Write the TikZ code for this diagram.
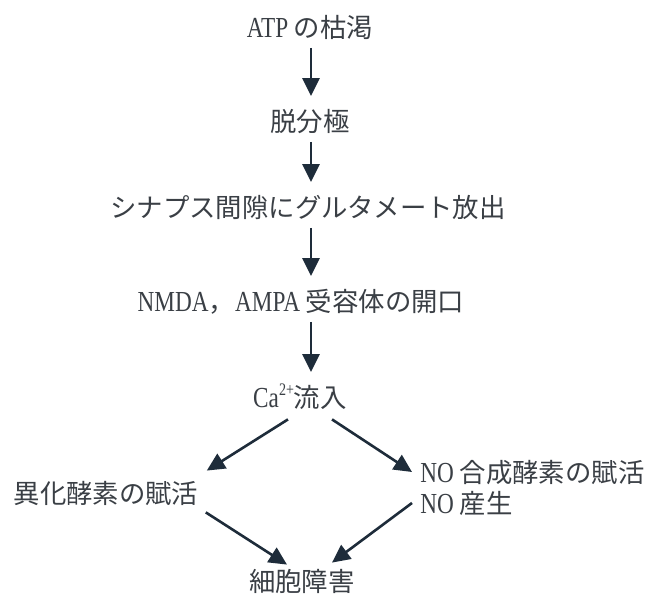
\documentclass[tikz,border=0pt]{standalone}
\usepackage{fontspec}
\setmainfont[FakeStretch=0.8,Scale=1.1]{Liberation Serif}
\newfontfamily\jp{Noto Sans CJK JP}
\usetikzlibrary{arrows.meta,calc}
\definecolor{txt}{HTML}{3A3F45}
\definecolor{arrc}{HTML}{1E2C3A}
\begin{document}
\begin{tikzpicture}[x=0.5pt,y=-0.5pt,
  lbl/.style={inner sep=0pt,text height=10.5pt,text depth=1pt,
    font=\fontsize{13.2}{15.5}\selectfont,text=txt},
  arr/.style={draw=arrc,line width=1.3pt,-{Triangle[width=8.5pt,length=9pt]}},
  varr/.style={arr,shorten <=4pt,shorten >=7pt}]
\useasboundingbox (0,0) rectangle (655,603);
\coordinate (ax) at (311,0);
\node[lbl] (atp) at (310,28) {ATP {\jp の枯渇}};
\node[lbl] (dep) at (310,122) {\jp 脱分極};
\node[lbl] (glu) at (308,208) {\jp シナプス間隙にグルタメート放出};
\node[lbl] (nmda) at (301,302) {NMDA{\jp ，}AMPA {\jp 受容体の開口}};
\node[lbl] (ca) at (300,398) {Ca\raisebox{0.9ex}{\fontsize{8}{9}\selectfont 2+}{\jp 流入}};
\node[lbl] (cat) at (106,494) {\jp 異化酵素の賦活};
\node[inner sep=0pt,align=left,anchor=west,font=\fontsize{13.2}{15.5}\selectfont,text=txt]
  (no) at (420,488) {NO {\jp 合成酵素の賦活}\\NO {\jp 産生}};
\node[lbl] (cell) at (302,582) {\jp 細胞障害};
\draw[varr] (atp.south -| ax) -- (dep.north -| ax);
\draw[varr] (dep.south -| ax) -- (glu.north -| ax);
\draw[varr] (glu.south -| ax) -- (nmda.north -| ax);
\draw[varr] (nmda.south -| ax) -- (ca.north -| ax);
\draw[arr] ($(ca.south)+(-12,9.5)$) -- ($(cat.north east)+(8,-11.5)$);
\draw[arr] ($(ca.south)+(32,9.5)$) -- ($(no.west)+(-8,-16)$);
\draw[arr] ($(cat.south east)+(7,6.5)$) -- ($(cell.north)+(-15,-5.5)$);
\draw[arr] ($(no.west)+(-8,15)$) -- ($(cell.north)+(30,-7.5)$);
\end{tikzpicture}
\end{document}
